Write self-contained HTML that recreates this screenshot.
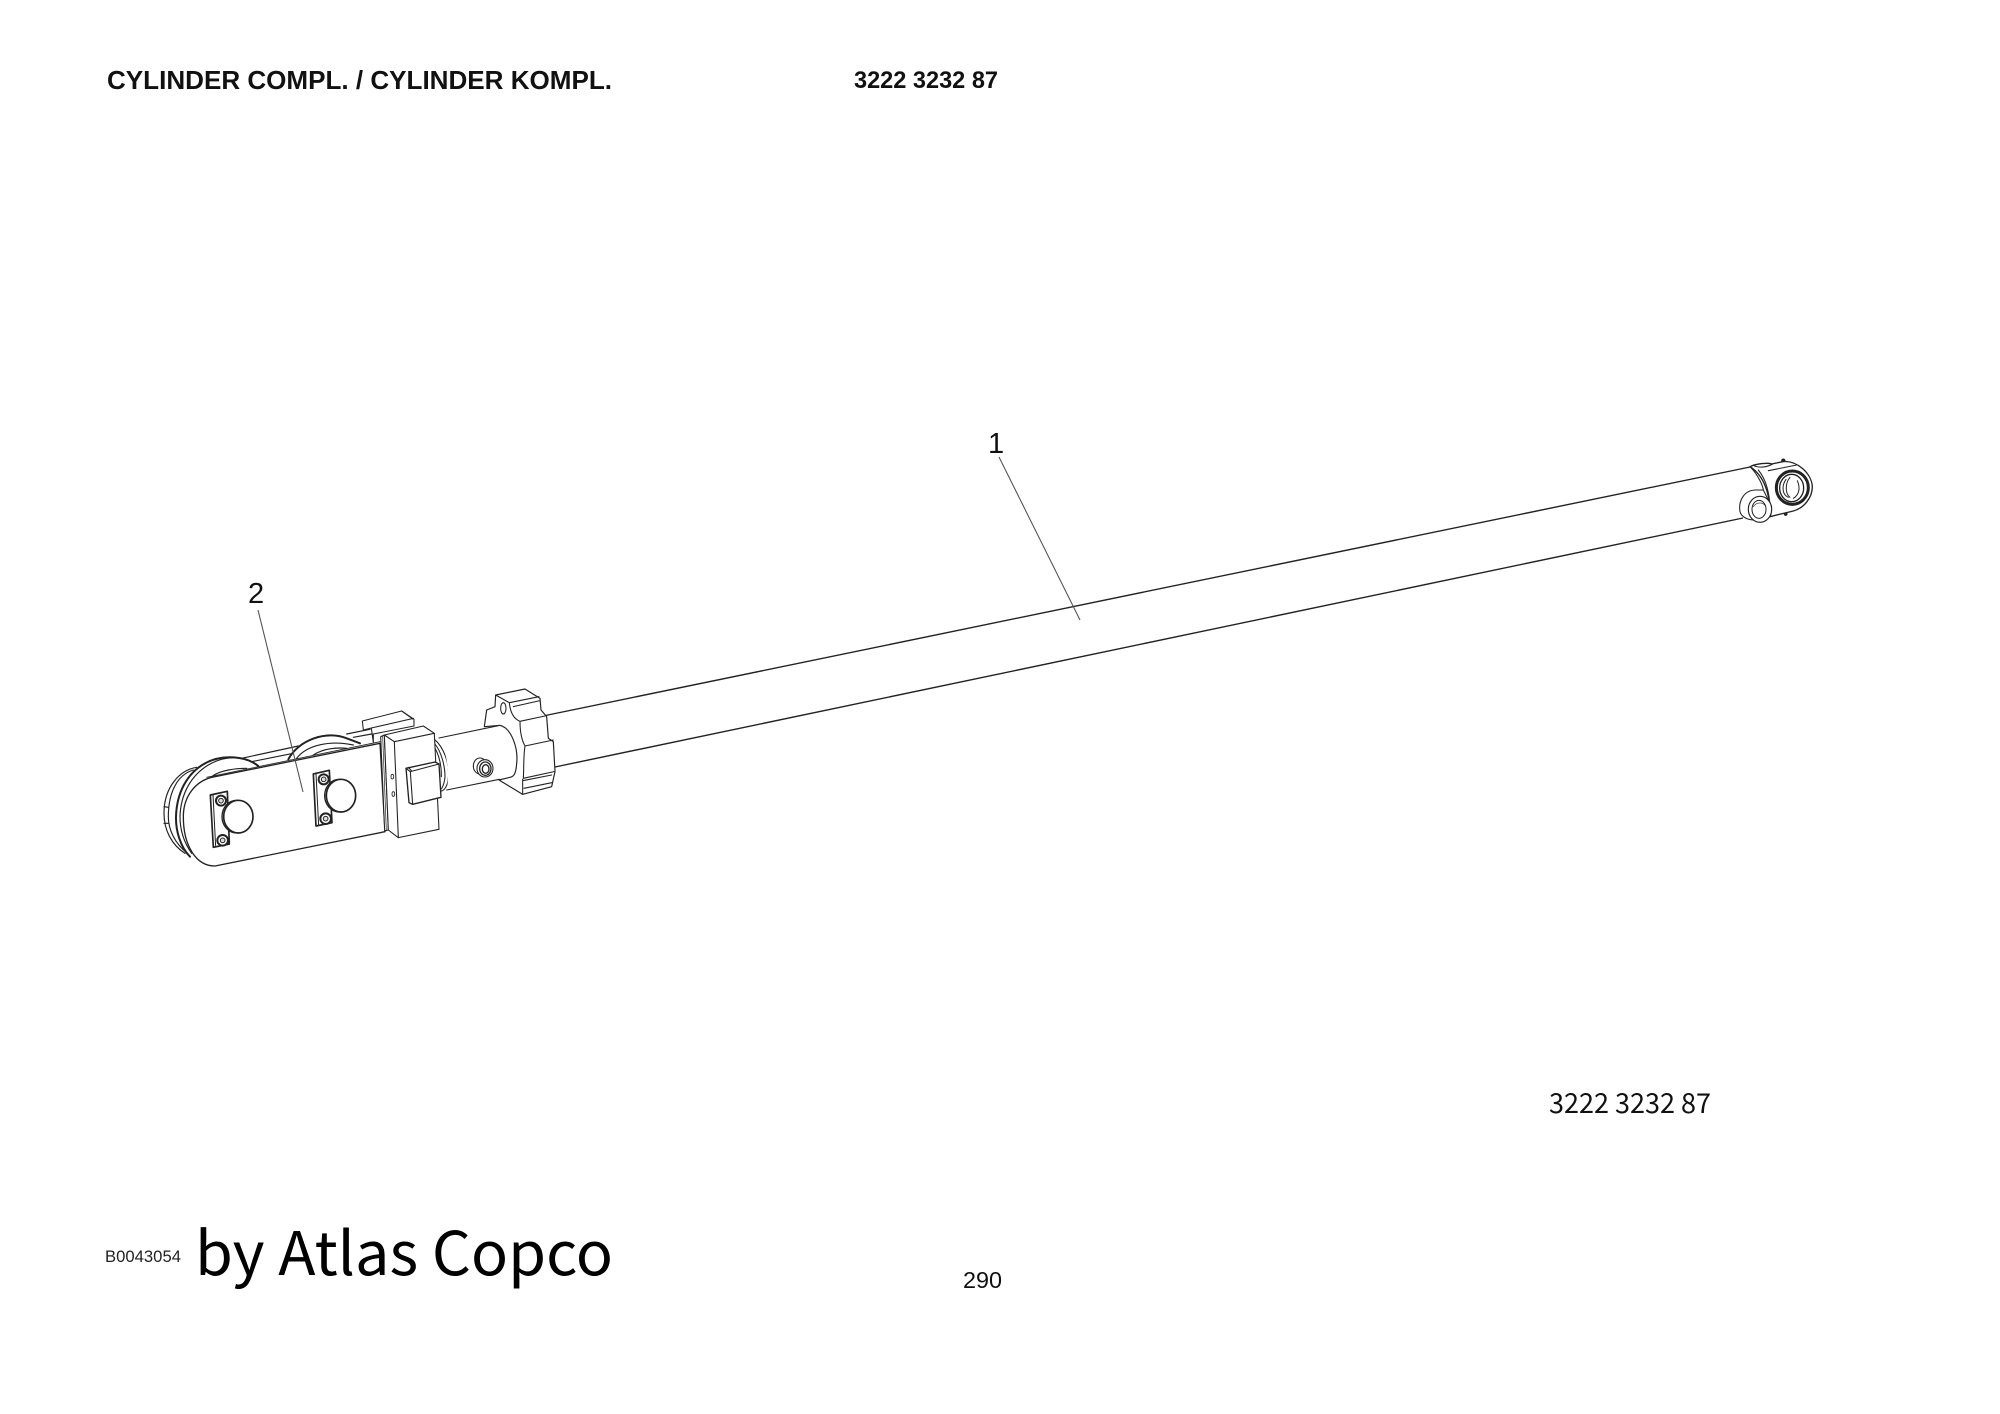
<!DOCTYPE html>
<html><head><meta charset="utf-8"><title>Cylinder compl.</title>
<style>html,body{margin:0;padding:0;background:#fff}svg{display:block}
.s{font-family:"Liberation Sans",sans-serif}.n{font-family:"Noto Sans CJK SC","Liberation Sans",sans-serif}</style></head>
<body>
<svg xmlns="http://www.w3.org/2000/svg" width="2000" height="1414" viewBox="0 0 2000 1414">
<rect width="2000" height="1414" fill="#fff"/>
<text class="s" x="107" y="89" font-size="26" font-weight="bold" fill="#111" textLength="505" lengthAdjust="spacingAndGlyphs">CYLINDER COMPL. / CYLINDER KOMPL.</text>
<text class="s" x="854" y="88" font-size="24" font-weight="bold" fill="#111" textLength="144" lengthAdjust="spacingAndGlyphs">3222 3232 87</text>
<text class="n" x="1549" y="1113" font-size="27.5" fill="#111" textLength="162" lengthAdjust="spacingAndGlyphs">3222 3232 87</text>
<text class="s" x="105" y="1262" font-size="16.5" fill="#222" textLength="76" lengthAdjust="spacingAndGlyphs">B0043054</text>
<text class="n" x="195" y="1275" font-size="60" fill="#000" textLength="418" lengthAdjust="spacingAndGlyphs">by Atlas Copco</text>
<text class="s" x="963" y="1288" font-size="23" fill="#111" textLength="39" lengthAdjust="spacingAndGlyphs">290</text>
<text class="s" x="988" y="453" font-size="29" fill="#111">1</text>
<text class="s" x="248" y="603" font-size="29" fill="#111">2</text>

<!-- tube -->
<g stroke="#222" stroke-width="1.4" fill="none">
<line x1="543" y1="716" x2="1750" y2="467"/>
<line x1="555" y1="767" x2="1743" y2="518"/>
</g>

<!-- left assembly: zoom-1 coordinates -->
<g transform="translate(140,660) scale(.33333)" stroke="#222" stroke-width="3.5" fill="#fff" stroke-linejoin="round" stroke-linecap="round">
<path d="M170,322 C120,330 72,380 72,460 C72,510 95,555 135,580" />
<path d="M160,330 C110,345 85,400 85,470 C85,510 105,550 140,578" fill="none"/>
<path d="M72,440 L85,442 M72,490 L85,490" fill="none"/>
<path d="M305,295 L475,258 M320,308 L460,280 M620,222 L690,208 M640,232 L695,222" fill="none"/>
<path d="M355,318 C320,290 250,280 195,310 C140,340 110,400 108,470 C107,510 120,560 150,590 L300,400 Z" stroke="none"/>
<path d="M355,318 C320,290 250,280 195,310 C140,340 110,400 108,470 C107,510 120,560 150,590" fill="none" stroke-width="6"/>
<path d="M335,305 C300,288 250,288 205,315 C155,345 122,400 120,470 C120,505 130,545 155,580" fill="none"/>
<path d="M215,350 C240,330 290,325 320,325" fill="none"/>
<path d="M445,298 C475,240 560,210 620,235 L660,250" stroke="none"/>
<path d="M445,298 C475,240 560,210 620,235 L660,250" fill="none" stroke-width="6"/>
<path d="M470,295 C500,255 570,240 640,255 M520,285 C550,265 590,262 620,265" fill="none"/>
<!-- plate -->
<path d="M720,250 L215,352 C165,365 130,410 130,470 C130,560 170,618 225,618 L735,515 Z" stroke-width="4"/>
<path d="M200,352 L720,245" fill="none" stroke-width="2.5"/>
<!-- fastener 1 -->
<path d="M211,405 L262,394 L268,552 L220,562 Z" stroke-width="5"/>
<path d="M219,404 L227,560" fill="none" stroke-width="3"/>
<circle cx="243" cy="422" r="15" stroke-width="6"/><circle cx="243" cy="422" r="7" stroke-width="3" fill="#ddd"/>
<circle cx="248" cy="541" r="16" stroke-width="6"/><circle cx="248" cy="541" r="7" stroke-width="3" fill="#ddd"/>
<ellipse cx="290" cy="470" rx="44" ry="49" stroke-width="4"/>
<ellipse cx="295" cy="470" rx="44" ry="49" stroke-width="5"/>
<!-- fastener 2 -->
<path d="M520,342 L568,331 L576,488 L528,498 Z" stroke-width="5"/>
<path d="M528,340 L536,497" fill="none" stroke-width="3"/>
<circle cx="551" cy="358" r="15" stroke-width="6"/><circle cx="551" cy="358" r="7" stroke-width="3" fill="#ddd"/>
<circle cx="557" cy="476" r="16" stroke-width="6"/><circle cx="557" cy="476" r="7" stroke-width="3" fill="#ddd"/>
<ellipse cx="598" cy="407" rx="44" ry="49" stroke-width="4"/>
<ellipse cx="603" cy="407" rx="44" ry="49" stroke-width="5"/>
</g>
<line x1="258" y1="610" x2="303" y2="792" stroke="#555" stroke-width="1.1"/>

<!-- middle assembly: zoom-2 coordinates -->
<g transform="translate(340,660) scale(.33333)" stroke="#222" stroke-width="3.2" fill="#fff" stroke-linejoin="round" stroke-linecap="round">
<!-- upper block -->
<path d="M67,183 L185,153 L222,178 L222,198 L100,222 L100,248 L94,204 L70,210 Z"/>
<path d="M94,204 L220,175 M185,153 L218,177" fill="none"/>
<!-- ring behind -->
<path d="M283,238 C310,260 330,310 325,355 C323,375 315,390 305,393 L280,393 Z"/>
<path d="M283,250 C305,275 315,320 315,350 C313,370 307,385 300,390 M283,262 C298,285 305,320 304,350" fill="none"/>
<!-- collar -->
<path d="M297,234 L480,196 C515,205 535,265 530,310 C528,340 522,350 510,352 L320,392 C330,340 320,270 297,234 Z" stroke="none"/>
<path d="M297,234 L480,196 M320,390 L478,358" fill="none"/>
<!-- strip and front block -->
<path d="M122,230 L133,225 L145,510 L134,513 Z"/>
<path d="M128,228 L139,512" fill="none" stroke-width="2"/>
<path d="M133,225 L250,198 L283,220 L297,508 L175,533 L145,510 Z"/>
<path d="M133,225 L163,245 L283,220 M163,245 L175,533" fill="none"/>
<ellipse cx="157" cy="350" rx="4" ry="7" stroke-width="2.5"/>
<ellipse cx="160" cy="402" rx="4" ry="7" stroke-width="2.5"/>
<!-- tab -->
<path d="M198,325 L285,306 L297,312 L303,412 L218,433 L207,428 Z" stroke-width="4"/>
<path d="M198,325 L211,335 L297,312 M211,335 L218,433 M205,322 L214,332" fill="none"/>
<!-- nut -->
<path d="M433,200 L440,150 L465,140 L467,105 L555,87 L600,115 L603,150 L620,170 L625,235 L640,245 L645,335 L635,380 L548,403 L477,360 L510,352 C522,350 528,340 530,310 C535,265 515,205 480,196 Z" stroke-width="3.5"/>
<ellipse cx="490" cy="145" rx="8" ry="17"/>
<path d="M467,105 L508,128 L597,110 M508,128 C510,150 518,175 540,184 L615,168 M540,184 C540,215 545,240 555,258 L640,240 M555,258 C550,290 552,320 550,355 L642,335 M548,358 L548,403 M548,362 L635,345 M552,385 L635,368 M520,140 L600,122" fill="none"/>
<!-- fitting -->
<ellipse cx="420" cy="318" rx="20" ry="24"/>
<ellipse cx="435" cy="325" rx="24" ry="26"/>
<ellipse cx="436" cy="326" rx="17" ry="20" stroke-width="4"/>
<ellipse cx="437" cy="327" rx="10" ry="13" stroke-width="4"/>
</g>
<line x1="999" y1="457" x2="1080" y2="620" stroke="#555" stroke-width="1.1"/>

<!-- right end: zoom-3 coordinates -->
<g transform="translate(1700,440) scale(.33333)" stroke="#222" stroke-width="3.2" fill="#fff" stroke-linejoin="round" stroke-linecap="round">
<circle cx="250" cy="62" r="5" fill="#222"/>
<circle cx="257" cy="222" r="4" fill="#222"/>
<path d="M150,80 C170,70 205,68 215,72 L248,65 C290,60 335,100 337,140 C337,175 310,205 280,213 L210,230 C212,160 190,105 150,80 Z" stroke-width="4"/>
<path d="M150,80 C175,105 190,140 190,152 M175,90 C195,115 210,150 212,228 M160,76 C175,85 200,82 218,72 M205,92 L290,75" fill="none"/>
<ellipse cx="277" cy="143" rx="48" ry="50" stroke-width="9" fill="#fff"/>
<ellipse cx="275" cy="144" rx="36" ry="41" stroke-width="4"/>
<path d="M258,118 C243,140 248,165 265,172 M292,122 C302,145 297,165 280,175 M270,112 C255,130 255,160 270,172" fill="none" stroke-width="3"/>
<path d="M168,150 C130,150 115,185 120,215 C125,235 150,240 165,240 L215,200 L190,150 Z"/>
<ellipse cx="180" cy="208" rx="35" ry="39" stroke-width="3.5"/>
<ellipse cx="177" cy="208" rx="21" ry="27" stroke-width="3"/>
<path d="M160,200 C170,185 190,185 197,200" fill="none" stroke-width="2"/>
</g>
</svg>
</body></html>
